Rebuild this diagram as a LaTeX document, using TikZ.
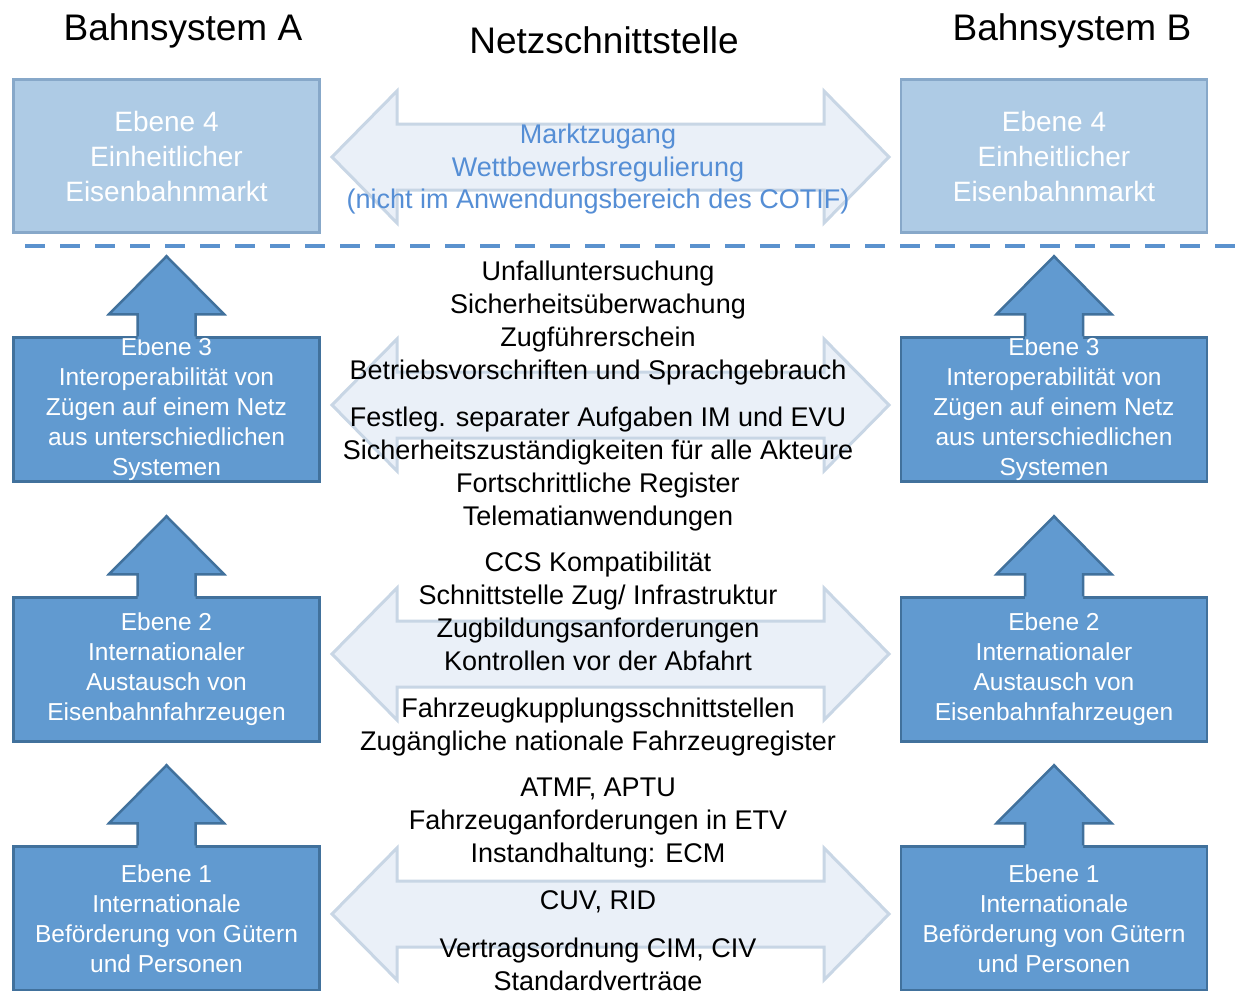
\documentclass[tikz,border=0pt]{standalone}
\usepackage{fontspec}
\setmainfont{Liberation Sans}
\usetikzlibrary{calc}
\definecolor{boxfill}{RGB}{97,154,208}
\definecolor{boxline}{RGB}{65,113,156}
\definecolor{topfill}{RGB}{174,203,229}
\definecolor{topline}{RGB}{135,168,201}
\definecolor{dafill}{RGB}{234,240,248}
\definecolor{daline}{RGB}{200,214,229}
\definecolor{dashblue}{RGB}{91,146,206}
\definecolor{mktext}{RGB}{85,142,213}
\newcommand\blockup[1]{%
  \fill[boxfill] ($(#1.north)+(-29,3)$) -- ++(0,-25) -- ++(-28.5,0) -- ++(57.5,-58) -- ++(57.5,58) -- ++(-28.5,0) -- ++(0,25) -- cycle;
  \draw[uparrowline] ($(#1.north)+(-29,0)$) -- ++(0,-22) -- ++(-28.5,0) -- ++(57.5,-58) -- ++(57.5,58) -- ++(-28.5,0) -- ++(0,22);
}
\newcommand\dblarrow[1]{%
  \draw[dblarrowstyle] (332,#1) -- (397,#1-66) -- (397,#1-33) -- (824,#1-33) -- (824,#1-66) -- (889,#1) -- (824,#1+66) -- (824,#1+33) -- (397,#1+33) -- (397,#1+66) -- cycle;
}
\begin{document}
\begin{tikzpicture}[x=1pt,y=-1pt,
  levelbox/.style={draw=boxline, fill=boxfill, line width=2.5pt, minimum width=306pt, minimum height=144pt, inner sep=0pt, text=white, align=center, font=\fontsize{24.5}{30}\selectfont},
  topbox/.style={draw=topline, fill=topfill, line width=2.5pt, minimum width=306pt, minimum height=153pt, inner sep=0pt, text=white, align=center, font=\fontsize{28}{35}\selectfont},
  uparrowline/.style={draw=boxline, line width=2.5pt, line join=miter},
  dblarrowstyle/.style={draw=daline, fill=dafill, line width=3pt, line join=miter},
  midtext/.style={anchor=north, inner sep=0pt, align=center, font=\fontsize{27}{33}\selectfont},
  titletext/.style={anchor=base, inner sep=0pt, font=\fontsize{37}{44}\selectfont}
]
\clip (0,0) rectangle (1235,991);
\fill[white] (0,0) rectangle (1235,991);

% titles
\node[titletext] (tA) at (183,40) {Bahnsystem A};
\node[titletext] (tN) at (604,53) {Netzschnittstelle};
\node[titletext] (tB) at (1072,40) {Bahnsystem B};

% double arrows
\dblarrow{157}
\dblarrow{405}
\dblarrow{654}
\dblarrow{914}

% level 4
\node[topbox] (e4a) at (166.5,156) {Ebene 4\\Einheitlicher\\Eisenbahnmarkt};
\node[topbox] (e4b) at (1054,156) {Ebene 4\\Einheitlicher\\Eisenbahnmarkt};

% dashed separator
\coordinate (dl) at (25,246);
\coordinate (dr) at (1240,246);
\draw[dashblue, line width=4.5pt, dash pattern=on 20pt off 15pt] (dl) -- (dr);

% level boxes
\node[levelbox] (e3a) at (166.5,409.5) {Ebene 3\\Interoperabilität von\\Zügen auf einem Netz\\aus unterschiedlichen\\Systemen};
\node[levelbox] (e3b) at (1054,409.5) {Ebene 3\\Interoperabilität von\\Zügen auf einem Netz\\aus unterschiedlichen\\Systemen};
\node[levelbox] (e2a) at (166.5,669.5) {Ebene 2\\Internationaler\\Austausch von\\Eisenbahnfahrzeugen};
\node[levelbox] (e2b) at (1054,669.5) {Ebene 2\\Internationaler\\Austausch von\\Eisenbahnfahrzeugen};
\node[levelbox] (e1a) at (166.5,918.5) {Ebene 1\\Internationale\\Beförderung von Gütern\\und Personen};
\node[levelbox] (e1b) at (1054,918.5) {Ebene 1\\Internationale\\Beförderung von Gütern\\und Personen};

% up arrows
\blockup{e3a}
\blockup{e3b}
\blockup{e2a}
\blockup{e2b}
\blockup{e1a}
\blockup{e1b}

% middle texts
\node[midtext, text=mktext, font=\fontsize{27}{32.5}\selectfont] (m4) at (598,124) {Marktzugang\\Wettbewerbsregulierung\\(nicht im Anwendungsbereich des COTIF)};
\node[midtext] (m3a) at (598,261) {Unfalluntersuchung\\Sicherheitsüberwachung\\Zugführerschein\\Betriebsvorschriften und Sprachgebrauch};
\node[midtext] (m3b) at (598,407) {Festleg. separater Aufgaben IM und EVU\\Sicherheitszuständigkeiten für alle Akteure\\Fortschrittliche Register\\Telematianwendungen};
\node[midtext] (m2a) at (598,552) {CCS Kompatibilität\\Schnittstelle Zug/ Infrastruktur\\Zugbildungsanforderungen\\Kontrollen vor der Abfahrt};
\node[midtext] (m2b) at (598,698) {Fahrzeugkupplungsschnittstellen\\Zugängliche nationale Fahrzeugregister};
\node[midtext] (m1a) at (598,778) {ATMF, APTU\\Fahrzeuganforderungen in ETV\\Instandhaltung: ECM};
\node[midtext] (m1b) at (598,890) {CUV, RID};
\node[midtext] (m1c) at (598,938) {Vertragsordnung CIM, CIV\\Standardverträge};
\end{tikzpicture}
\end{document}
